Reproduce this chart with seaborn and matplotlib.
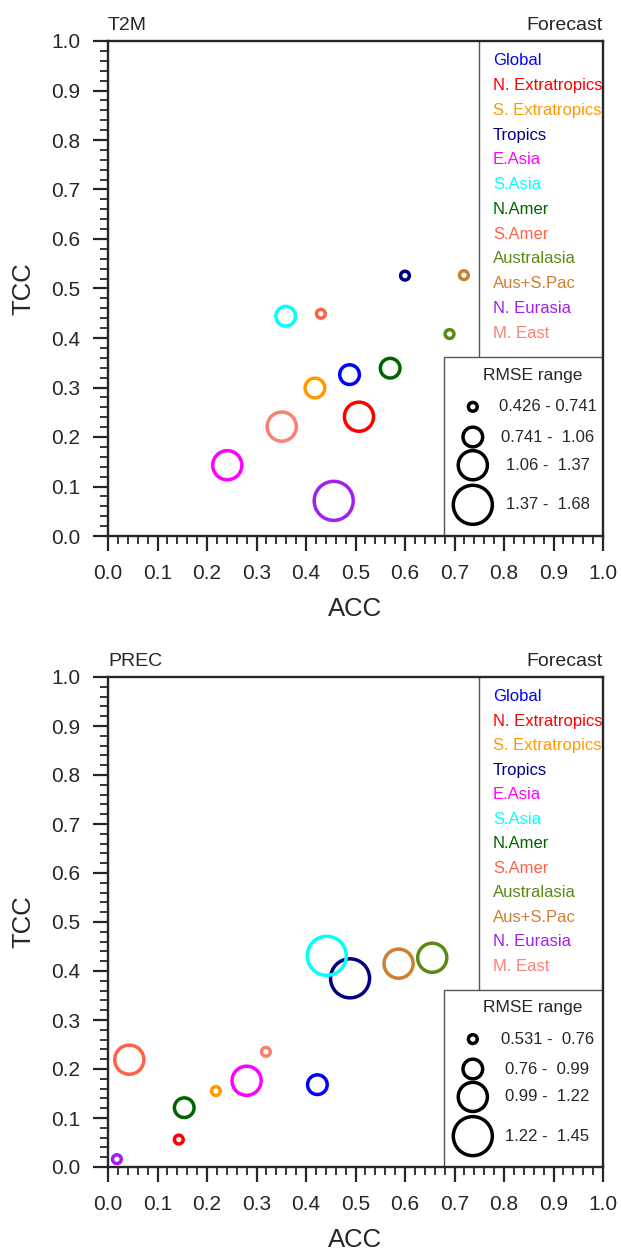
import numpy as np
import pandas as pd
import matplotlib
matplotlib.use('Agg')
import matplotlib.pyplot as plt
import seaborn as sns
from matplotlib.patches import Rectangle
from matplotlib.ticker import MultipleLocator, FormatStrFormatter

regions = ['Global', 'N. Extratropics', 'S. Extratropics', 'Tropics', 'E.Asia', 'S.Asia',
           'N.Amer', 'S.Amer', 'Australasia', 'Aus+S.Pac', 'N. Eurasia', 'M. East']
colors = ['#0000ff', '#ff0000', '#ff9900', '#000080', '#ff00ff', '#00ffff',
          '#006400', '#ff6347', '#5a8a14', '#cd7f32', '#a020f0', '#fa8072']

# T2M panel
t2m_acc = [0.488, 0.507, 0.418, 0.600, 0.241, 0.359, 0.570, 0.430, 0.690, 0.719, 0.456, 0.351]
t2m_tcc = [0.326, 0.241, 0.299, 0.526, 0.143, 0.444, 0.339, 0.449, 0.408, 0.527, 0.071, 0.221]
t2m_bin = [2, 3, 2, 1, 3, 2, 2, 1, 1, 1, 4, 3]
t2m_ranges = ['0.426 - 0.741', '0.741 -  1.06', '1.06 -  1.37', '1.37 -  1.68']

# PREC panel
prec_acc = [0.423, 0.143, 0.218, 0.489, 0.280, 0.442, 0.154, 0.043, 0.655, 0.587, 0.018, 0.319]
prec_tcc = [0.168, 0.056, 0.155, 0.385, 0.176, 0.431, 0.121, 0.219, 0.427, 0.415, 0.016, 0.235]
prec_bin = [2, 1, 1, 4, 3, 4, 2, 3, 3, 3, 1, 1]
prec_ranges = ['0.531 -  0.76', '0.76 -  0.99', '0.99 -  1.22', '1.22 -  1.45']

bin_sizes = {1: 40, 2: 200, 3: 440, 4: 790}
lw = 2.5

sns.set_style('ticks')
plt.rcParams['font.family'] = ['Liberation Sans', 'DejaVu Sans']

fig = plt.figure(figsize=(6.21, 12.53), dpi=100)
ax_top = fig.add_axes([108 / 621, 1 - 536 / 1253, 495 / 621, 495 / 1253])
ax_bot = fig.add_axes([108 / 621, 1 - 1167 / 1253, 495 / 621, 490 / 1253])

palette = dict(zip(regions, colors))


def panel(ax, acc, tcc, bins, ranges, name):
    df = pd.DataFrame({'region': regions, 'ACC': acc, 'TCC': tcc, 'bin': bins})
    sns.scatterplot(data=df, x='ACC', y='TCC', hue='region', palette=palette,
                    size='bin', sizes=bin_sizes, legend=False, ax=ax,
                    linewidth=lw, zorder=3)
    pts = ax.collections[0]
    pts.set_edgecolors(pts.get_facecolors())
    pts.set_facecolors('none')

    ax.set_xlim(0, 1)
    ax.set_ylim(0, 1)
    ax.xaxis.set_major_locator(MultipleLocator(0.1))
    ax.yaxis.set_major_locator(MultipleLocator(0.1))
    ax.xaxis.set_minor_locator(MultipleLocator(0.02))
    ax.yaxis.set_minor_locator(MultipleLocator(0.02))
    ax.xaxis.set_major_formatter(FormatStrFormatter('%.1f'))
    ax.yaxis.set_major_formatter(FormatStrFormatter('%.1f'))
    ax.tick_params(which='major', direction='out', length=11, width=1.6,
                   labelsize=15, pad=9)
    ax.tick_params(which='minor', direction='out', length=6, width=1.3)
    for s in ax.spines.values():
        s.set_linewidth(1.7)
        s.set_visible(True)
    ax.set_xlabel('ACC', fontsize=18.5, labelpad=10)
    ax.set_ylabel('TCC', fontsize=18.5, labelpad=11)

    ax.text(0.0, 1.015, name, transform=ax.transAxes, ha='left', va='bottom', fontsize=14)
    ax.text(1.0, 1.015, 'Forecast', transform=ax.transAxes, ha='right', va='bottom', fontsize=14)

    # region legend
    ax.plot([0.749, 0.749], [0.362, 1.0], color='#555555', lw=1, zorder=2)
    for i, (r, c) in enumerate(zip(regions, colors)):
        ax.text(0.778, 0.96 - 0.05 * i, r, color=c, fontsize=12,
                ha='left', va='center', transform=ax.transAxes)

    # RMSE legend
    ax.add_patch(Rectangle((0.679, 0.0), 0.321, 0.362, transform=ax.transAxes,
                           facecolor='white', edgecolor='#555555', lw=1, zorder=2))
    ax.text(0.857, 0.325, 'RMSE range', transform=ax.transAxes, ha='center',
            va='center', fontsize=12.5, zorder=4)
    ys = [0.261, 0.200, 0.143, 0.063]
    ax.scatter([0.737] * 4, ys, s=[bin_sizes[k] for k in (1, 2, 3, 4)],
               facecolors='none', edgecolors='black', linewidths=lw,
               transform=ax.transAxes, zorder=4, clip_on=False)
    for y, lab in zip(ys, ranges):
        ax.text(0.888, y, lab, transform=ax.transAxes, ha='center', va='center',
                fontsize=12, zorder=4)


panel(ax_top, t2m_acc, t2m_tcc, t2m_bin, t2m_ranges, 'T2M')
panel(ax_bot, prec_acc, prec_tcc, prec_bin, prec_ranges, 'PREC')

fig.savefig('out.png', dpi=100)
